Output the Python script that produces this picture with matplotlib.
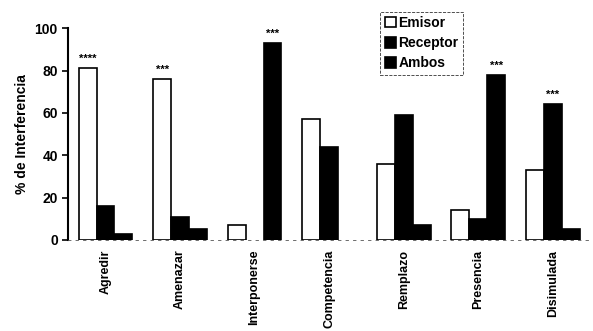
import numpy as np
import matplotlib.pyplot as plt

# ================= 数据 =================
categorias = ['Agredir', 'Amenazar', 'Interponerse', 'Competencia', 'Remplazo', 'Presencia', 'Disimulada']
emisor = [81, 76, 7, 57, 36, 14, 33]
receptor = [16, 11, 0, 44, 59, 10, 64]
ambos = [3, 5, 93, 0, 7, 78, 5]
# 显著性标记: (组索引, 系列索引, 文本)
marcas = [(0, 0, '****'), (1, 0, '***'), (2, 2, '***'), (5, 2, '***'), (6, 1, '***')]

plt.rcParams['font.family'] = ['Liberation Sans', 'DejaVu Sans']
plt.rcParams['font.weight'] = 'bold'

fig, ax = plt.subplots(figsize=(5.93, 3.31), dpi=100)
fig.subplots_adjust(left=0.115, right=0.995, top=0.915, bottom=0.275)

x = np.arange(len(categorias))
w = 0.24
series = [emisor, receptor, ambos]
offsets = [-w, 0, w]
colores = ['white', 'black', 'black']
etiquetas = ['Emisor', 'Receptor', 'Ambos']

for vals, off, c, lab in zip(series, offsets, colores, etiquetas):
    v = np.array(vals, dtype=float)
    v[v == 0] = np.nan  # 值为 0 的柱子不画
    ax.bar(x + off, v, width=w, color=c, edgecolor='black', linewidth=1.2, label=lab)

for gi, si, txt in marcas:
    ax.text(x[gi] + offsets[si], series[si][gi] + 2, txt, ha='center', va='bottom',
            fontsize=8, fontweight='bold')

ax.set_xlim(-0.5, 6.5)
ax.set_ylim(0, 100)
ax.set_yticks([0, 20, 40, 60, 80, 100])
ax.set_xticks(x)
ax.set_xticklabels(categorias, rotation=90, fontsize=9, fontweight='bold')
ax.tick_params(axis='y', labelsize=10, width=1.2, length=4)
ax.tick_params(axis='x', length=0, pad=7)
ax.set_ylabel('% de Interferencia', fontsize=10, fontweight='bold', labelpad=4)

ax.spines['top'].set_visible(False)
ax.spines['right'].set_visible(False)
ax.spines['left'].set_linewidth(1.5)
ax.spines['bottom'].set_linestyle((0, (3, 6)))
ax.spines['bottom'].set_linewidth(0.6)
ax.spines['bottom'].set_color('#555555')

leg = ax.legend(loc='upper left', bbox_to_anchor=(0.585, 1.11), fontsize=10,
                handlelength=0.8, handleheight=0.8, handletextpad=0.2,
                labelspacing=0.45, borderpad=0.3, fancybox=False, framealpha=1)
leg.get_frame().set_edgecolor('#333333')
leg.get_frame().set_linestyle('--')
leg.get_frame().set_linewidth(0.6)

fig.savefig('out.png', dpi=100)
